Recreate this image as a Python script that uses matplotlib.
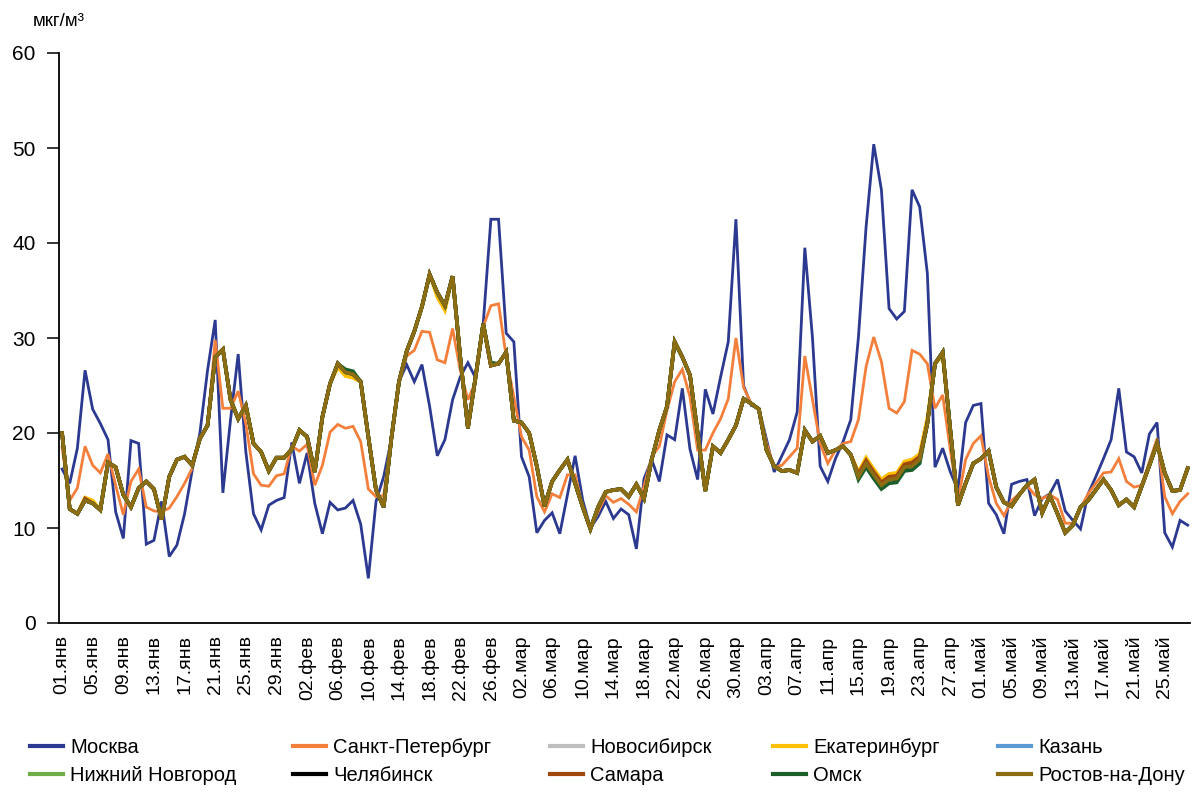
import matplotlib
matplotlib.use("Agg")
import matplotlib.pyplot as plt
from matplotlib import font_manager

# daily values, 01.01 .. 28.05, мкг/м3
moscow = [16.2, 14.7, 18.4, 26.6, 22.5, 21.0, 19.3, 11.7, 8.9, 19.2,
          18.9, 8.3, 8.7, 12.8, 7.0, 8.2, 11.5, 16.1, 20.0, 26.6,
          31.9, 13.7, 21.4, 28.3, 18.0, 11.5, 9.8, 12.4, 12.9, 13.2,
          19.0, 14.7, 17.9, 12.6, 9.4, 12.7, 11.9, 12.1, 12.9, 10.4,
          4.7, 12.8, 15.4, 19.3, 25.4, 27.2, 25.4, 27.2, 22.8, 17.6,
          19.3, 23.5, 25.9, 27.4, 25.8, 31.5, 42.5, 42.5, 30.5, 29.6,
          17.5, 15.4, 9.5, 10.8, 11.6, 9.4, 13.5, 17.6, 12.9, 10.0,
          11.2, 12.8, 11.0, 12.0, 11.4, 7.8, 15.2, 17.2, 14.9, 19.8,
          19.3, 24.7, 18.3, 15.1, 24.6, 22.0, 25.9, 29.6, 42.5, 25.0,
          22.9, 22.6, 19.3, 15.9, 17.6, 19.3, 22.2, 39.5, 30.0, 16.5,
          14.9, 17.3, 19.1, 21.4, 30.1, 41.7, 50.4, 45.6, 33.1, 32.0,
          32.8, 45.6, 43.8, 36.8, 16.4, 18.4, 15.9, 14.0, 21.1, 22.9,
          23.1, 12.6, 11.4, 9.4, 14.6, 14.9, 15.1, 11.3, 13.1, 13.6,
          15.1, 11.8, 10.8, 9.9, 13.6, 15.4, 17.3, 19.3, 24.7, 18.0,
          17.5, 15.8, 19.9, 21.1, 9.5, 8.0, 10.8, 10.3]

spb = [18.5, 12.9, 14.2, 18.6, 16.6, 15.8, 17.8, 14.5, 11.4, 14.9,
       16.2, 12.2, 11.8, 11.7, 12.1, 13.3, 14.7, 16.3, 19.6, 20.8,
       29.8, 22.6, 22.6, 24.4, 21.0, 15.7, 14.5, 14.4, 15.5, 15.7,
       18.6, 18.1, 18.8, 14.5, 16.6, 20.1, 20.9, 20.5, 20.7, 19.1,
       14.1, 13.3, 13.4, 19.6, 25.2, 28.1, 28.7, 30.7, 30.6, 27.7,
       27.4, 31.0, 26.6, 23.5, 25.4, 31.2, 33.4, 33.6, 28.0, 23.8,
       19.6, 18.2, 13.3, 11.7, 13.6, 13.2, 15.6, 15.6, 12.2, 10.0,
       11.7, 13.4, 12.7, 13.1, 12.5, 11.7, 14.4, 17.5, 18.6, 22.4,
       25.4, 26.7, 23.8, 18.2, 18.2, 20.0, 21.5, 23.6, 30.0, 24.8,
       23.1, 22.6, 18.9, 16.4, 16.6, 17.5, 18.4, 28.1, 23.5, 18.9,
       16.8, 18.2, 18.9, 19.1, 21.4, 27.0, 30.1, 27.5, 22.6, 22.1,
       23.3, 28.7, 28.3, 27.3, 22.6, 24.0, 18.2, 12.9, 17.2, 18.9,
       19.7, 15.4, 12.6, 11.3, 12.9, 13.6, 14.5, 13.5, 13.1, 13.5,
       13.0, 10.5, 10.5, 12.1, 13.6, 14.7, 15.8, 15.9, 17.3, 14.9,
       14.3, 14.5, 17.0, 19.4, 13.3, 11.5, 12.8, 13.6]

# the other eight cities run almost on top of each other
regions = [20.0, 12.0, 11.5, 12.9, 12.6, 11.9, 16.9, 16.4, 13.5, 12.2,
           14.2, 14.9, 14.1, 10.9, 15.4, 17.2, 17.5, 16.6, 19.4, 20.8,
           28.0, 28.8, 23.5, 21.5, 22.9, 18.9, 18.0, 16.0, 17.4, 17.4,
           18.3, 20.3, 19.6, 15.9, 21.7, 25.2, 27.3, 26.4, 26.2, 25.4,
           19.6, 14.0, 12.2, 19.4, 25.4, 28.6, 30.7, 33.3, 36.7, 34.8,
           33.4, 36.5, 28.0, 20.5, 25.9, 31.5, 27.1, 27.3, 28.5, 21.3,
           21.1, 20.0, 16.5, 12.3, 14.9, 16.1, 17.2, 14.7, 12.2, 9.9,
           12.2, 13.8, 14.0, 14.1, 13.3, 14.6, 13.1, 17.2, 20.3, 22.8,
           29.6, 28.0, 26.1, 20.0, 13.9, 18.6, 17.9, 19.3, 20.8, 23.6,
           23.1, 22.5, 18.2, 16.5, 16.0, 16.1, 15.8, 20.3, 19.1, 19.7,
           17.9, 18.2, 18.6, 17.7, 15.4, 16.8, 15.6, 14.5, 15.1, 15.2,
           16.4, 16.5, 17.2, 21.0, 27.3, 28.5, 20.3, 12.4, 14.7, 16.8,
           17.3, 18.1, 14.3, 12.7, 12.3, 13.5, 14.5, 15.1, 11.6, 13.4,
           11.5, 9.5, 10.3, 12.2, 12.9, 14.0, 15.1, 14.0, 12.4, 13.0,
           12.2, 14.4, 16.6, 18.9, 15.8, 13.9, 14.0, 16.3]

# spots where single cities peek out from under the common line
ekb_diff = {3: 13.2, 4: 12.9, 36: 26.9, 37: 26.0, 38: 25.8, 49: 34.3, 50: 32.9,
            104: 15.9, 105: 17.4, 106: 16.2, 107: 15.1, 108: 15.7, 109: 15.8,
            110: 17.0, 111: 17.2, 112: 17.8, 113: 21.6, 115: 28.1}
samara_diff = {3: 13.1, 104: 15.7, 105: 17.1, 106: 15.9, 107: 14.8, 108: 15.4,
               109: 15.5, 110: 16.7, 111: 16.9, 112: 17.5}
omsk_diff = {37: 26.7, 38: 26.5, 56: 27.4, 104: 15.1, 105: 16.4, 106: 15.2,
             107: 14.1, 108: 14.7, 109: 14.8, 110: 16.0, 111: 16.1, 112: 16.8}

cities = ["Москва", "Санкт-Петербург", "Новосибирск", "Екатеринбург", "Казань",
          "Нижний Новгород", "Челябинск", "Самара", "Омск", "Ростов-на-Дону"]
colors = ["#2b3990", "#f47f3b", "#bfbfbf", "#ffc000", "#5b9bd5",
          "#70ad47", "#000000", "#9e480e", "#1b5e2a", "#8c6d14"]

tick_labels = ["01.янв", "05.янв", "09.янв", "13.янв", "17.янв", "21.янв", "25.янв", "29.янв",
               "02.фев", "06.фев", "10.фев", "14.фев", "18.фев", "22.фев", "26.фев",
               "02.мар", "06.мар", "10.мар", "14.мар", "18.мар", "22.мар", "26.мар", "30.мар",
               "03.апр", "07.апр", "11.апр", "15.апр", "19.апр", "23.апр", "27.апр",
               "01.май", "05.май", "09.май", "13.май", "17.май", "21.май", "25.май"]


def with_diff(base, diff):
    vals = list(base)
    for k, v in diff.items():
        vals[k] = v
    return vals


series = [moscow, spb, regions, with_diff(regions, ekb_diff), regions, regions,
          regions, with_diff(regions, samara_diff), with_diff(regions, omsk_diff), regions]

names = {f.name for f in font_manager.fontManager.ttflist}
narrow = "Liberation Sans Narrow" if "Liberation Sans Narrow" in names else "Liberation Sans"
plt.rcParams['font.family'] = ['Liberation Sans', 'DejaVu Sans']

W, H = 1192, 793
fig = plt.figure(figsize=(W / 100, H / 100), dpi=100)
ax = fig.add_axes([59 / W, 1 - 623 / H, (1190 - 59) / W, (623 - 53) / H])

days = list(range(len(moscow)))
lines = []
for i, (name, vals) in enumerate(zip(cities, series)):
    lw = 2.0 if i < 2 else 2.6
    ln, = ax.plot(days, vals, color=colors[i], lw=lw, label=name,
                  solid_joinstyle='miter', zorder=2 + i)
    lines.append(ln)

ax.set_ylim(0, 60)
ax.set_xlim(-0.4, 147.3)
ax.set_yticks(range(0, 61, 10))
ax.set_xticks(range(0, 145, 4))
ax.set_xticklabels(tick_labels, rotation=90, fontsize=14)
ax.tick_params(axis='x', length=0, pad=9)
ax.tick_params(axis='y', labelsize=15, length=9, width=1.1, pad=8, direction='out')
for s in ['top', 'right']:
    ax.spines[s].set_visible(False)
for s in ['left', 'bottom']:
    ax.spines[s].set_linewidth(1.3)

fig.text(33 / W, 1 - 22 / H, "мкг/м³", fontsize=13.5, va='center', ha='left')

# legend: five columns, two rows
col_x = [30, 293, 550, 773, 998]
for c in range(5):
    hs = [lines[c], lines[c + 5]]
    leg = fig.legend(handles=hs, loc='upper left', bbox_to_anchor=(col_x[c] / W, 1 - 738 / H),
                     frameon=False, borderpad=0, borderaxespad=0, handlelength=1.65,
                     handletextpad=0.35, labelspacing=0.45,
                     prop={'family': [narrow, 'DejaVu Sans'], 'size': 14.5})
    for h in leg.legend_handles:
        h.set_linewidth(3)

fig.savefig("out.png", dpi=100)
